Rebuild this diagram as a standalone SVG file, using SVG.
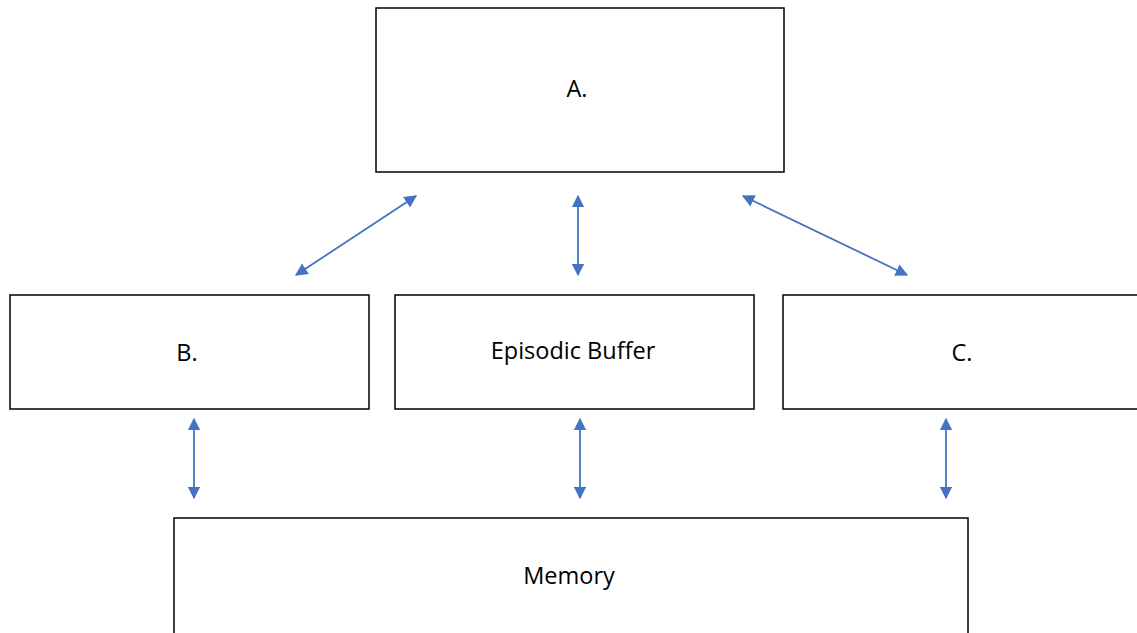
<svg xmlns="http://www.w3.org/2000/svg" width="1137" height="633" viewBox="0 0 1137 633">
<style>
.box{fill:#fff;stroke:#000;stroke-width:1.5}
.lbl{font-family:"Open Sans","Liberation Sans",sans-serif;font-size:23.5px;fill:#000;text-anchor:middle;dominant-baseline:central}
.conn{stroke:#4472C4;stroke-width:1.8;fill:none;marker-start:url(#ah);marker-end:url(#ah)}
</style>
<defs>
<marker id="ah" viewBox="0 0 10 10" refX="9" refY="5" markerWidth="7" markerHeight="7" orient="auto-start-reverse" markerUnits="strokeWidth">
<path d="M0,0 L10,5 L0,10 z" fill="#4472C4"/>
</marker>
</defs>
<rect width="1137" height="633" fill="#fff"/>
<g id="nodeA"><rect class="box" x="376" y="8" width="408" height="164"/><text class="lbl" x="577" y="88">A.</text></g>
<g id="nodeB"><rect class="box" x="10" y="295" width="359" height="114"/><text class="lbl" x="187" y="352">B.</text></g>
<g id="nodeEB"><rect class="box" x="395" y="295" width="359" height="114"/><text class="lbl" x="573" y="350">Episodic Buffer</text></g>
<g id="nodeC"><rect class="box" x="783" y="295" width="370" height="114"/><text class="lbl" x="962" y="352">C.</text></g>
<g id="nodeMemory"><rect class="box" x="174" y="518" width="794" height="125"/><text class="lbl" x="569" y="575">Memory</text></g>
<g id="connectors">
<line class="conn" x1="296" y1="275" x2="416" y2="196"/>
<line class="conn" x1="578" y1="196" x2="578" y2="275"/>
<line class="conn" x1="743" y1="196" x2="907" y2="275"/>
<line class="conn" x1="194" y1="419" x2="194" y2="498"/>
<line class="conn" x1="580" y1="419" x2="580" y2="498"/>
<line class="conn" x1="946" y1="419" x2="946" y2="498"/>
</g>
</svg>
